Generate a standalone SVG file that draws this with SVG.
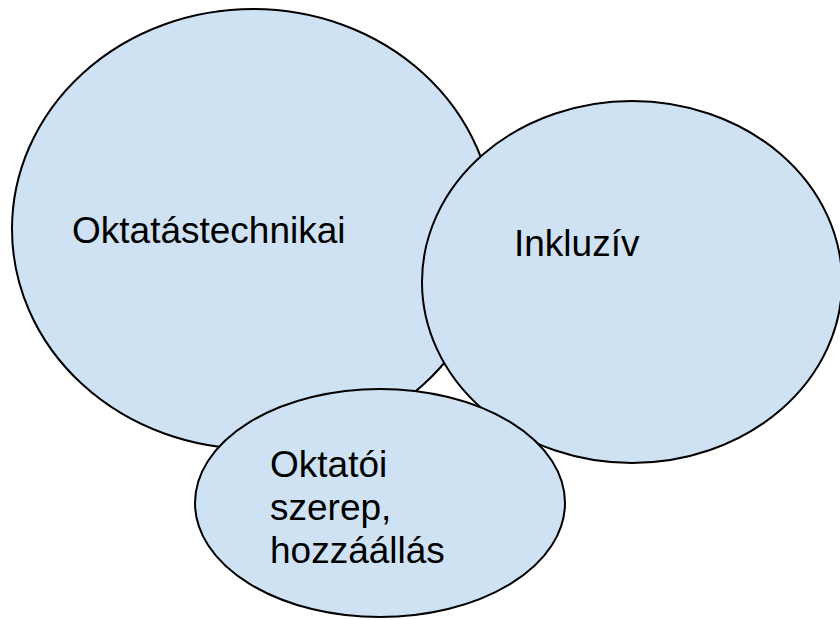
<svg xmlns="http://www.w3.org/2000/svg" width="840" height="620" viewBox="0 0 840 620">
  <style>
    .bubble { fill: #cfe2f3; stroke: #000000; stroke-width: 2; }
    .label { font-family: "Liberation Sans", Arial, sans-serif; font-size: 37px; fill: #000000; }
  </style>
  <rect width="840" height="620" fill="#ffffff"/>
  <g id="oktatastechnikai">
    <ellipse class="bubble" cx="253" cy="229" rx="241" ry="220"/>
    <text class="label" x="72" y="243">Oktatástechnikai</text>
  </g>
  <g id="inkluziv">
    <ellipse class="bubble" cx="632" cy="282" rx="210" ry="181"/>
    <text class="label" x="514" y="256">Inkluzív</text>
  </g>
  <g id="oktatoi-szerep">
    <ellipse class="bubble" cx="380" cy="503" rx="185" ry="114"/>
    <text class="label" x="270" y="477">Oktatói</text>
    <text class="label" x="270" y="520">szerep,</text>
    <text class="label" x="270" y="563">hozzáállás</text>
  </g>
  <g id="connectors"/>
</svg>
